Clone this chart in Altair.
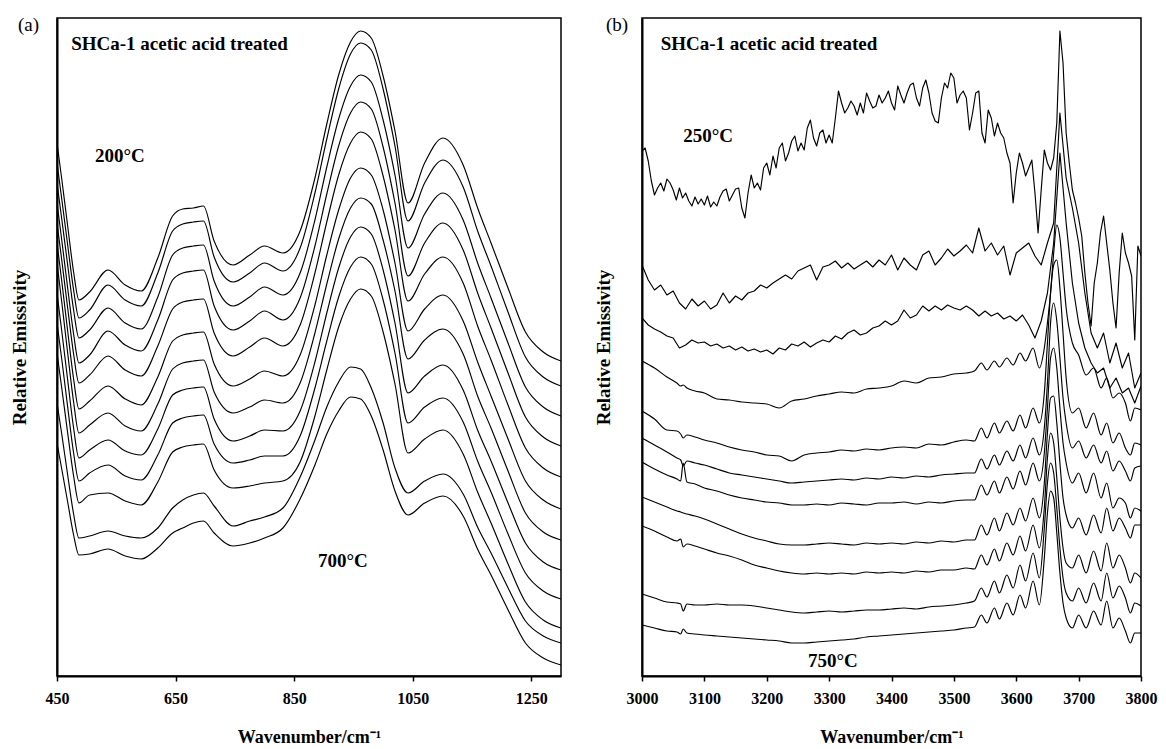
import altair as alt
import pandas as pd

FONT = "Liberation Serif"

# ---------------- panel (a): 450-1300 cm-1, 12 stacked spectra (top = 200 C) ----------------
A_WN = [450, 458, 468, 478, 487, 505, 536, 565, 592, 620, 645, 662, 680, 697, 715, 747, 775, 800, 831,
        860, 885, 905, 925, 945, 962, 980, 1000, 1020, 1042, 1070, 1101, 1135, 1160, 1182, 1210, 1240, 1270, 1300]

A_S1 = [533, 497, 450, 404, 376, 384, 406, 391, 385, 418, 460, 467, 468, 470, 435, 411, 421, 430, 423,
        445, 498, 552, 601, 634, 645, 638, 600, 545, 473, 513, 538, 511, 467, 433, 389, 344, 324, 315]
A_S2 = [513, 477, 431, 386, 358, 366, 391, 376, 370, 403, 445, 452, 454, 455, 419, 394, 403, 413, 405,
        428, 483, 537, 587, 622, 633, 626, 587, 530, 455, 493, 516, 489, 444, 410, 365, 319, 299, 290]
A_S3 = [493, 457, 411, 366, 338, 346, 368, 353, 347, 379, 421, 428, 430, 431, 395, 370, 379, 389, 381,
        403, 456, 509, 557, 590, 601, 594, 556, 501, 428, 462, 483, 456, 412, 378, 334, 289, 269, 260]
A_S4 = [473, 436, 388, 342, 313, 321, 345, 331, 325, 356, 396, 403, 405, 406, 370, 346, 355, 365, 356,
        378, 430, 482, 530, 563, 574, 567, 529, 473, 400, 433, 453, 426, 382, 348, 304, 259, 239, 230]
A_S5 = [453, 416, 368, 322, 293, 301, 320, 306, 300, 330, 367, 374, 376, 377, 343, 320, 329, 338, 330,
        351, 403, 454, 501, 533, 544, 537, 500, 446, 375, 402, 419, 393, 349, 316, 272, 228, 208, 199]
A_S6 = [433, 395, 345, 297, 267, 275, 290, 277, 271, 299, 335, 341, 343, 344, 312, 290, 297, 305, 300,
        321, 371, 421, 466, 498, 508, 501, 466, 413, 345, 367, 381, 355, 313, 280, 238, 195, 176, 167]
A_S7 = [413, 374, 323, 274, 243, 251, 263, 250, 245, 272, 307, 313, 315, 316, 284, 263, 269, 276, 273,
        293, 343, 392, 437, 468, 478, 472, 436, 385, 317, 336, 347, 322, 279, 248, 206, 163, 144, 136]
A_S8 = [383, 345, 296, 248, 218, 226, 236, 225, 221, 247, 281, 286, 288, 289, 257, 235, 240, 246, 245,
        265, 314, 363, 408, 439, 449, 442, 406, 353, 283, 300, 311, 286, 245, 215, 174, 133, 114, 106]
A_S9 = [353, 317, 269, 223, 195, 203, 211, 200, 196, 221, 253, 258, 260, 261, 232, 213, 216, 220, 220,
        240, 288, 335, 379, 409, 419, 412, 376, 323, 253, 269, 278, 254, 214, 184, 143, 103, 85, 77]
A_S10 = [323, 288, 243, 200, 173, 181, 183, 175, 171, 194, 224, 229, 231, 232, 206, 188, 190, 193, 195,
         214, 260, 306, 349, 377, 387, 380, 344, 292, 223, 237, 246, 222, 183, 153, 113, 74, 56, 48]
A_S11 = [273, 242, 201, 162, 138, 140, 145, 140, 138, 148, 168, 176, 181, 183, 170, 150, 155, 159, 168,
         199, 236, 269, 294, 309, 307, 288, 253, 208, 183, 195, 202, 182, 148, 123, 89, 55, 40, 33]
A_S12 = [233, 207, 174, 141, 121, 122, 127, 120, 117, 128, 143, 148, 153, 155, 143, 130, 133, 138, 148,
         177, 211, 242, 265, 279, 277, 260, 226, 185, 161, 173, 180, 160, 126, 101, 67, 33, 18, 11]
A_SERIES = [A_S1, A_S2, A_S3, A_S4, A_S5, A_S6, A_S7, A_S8, A_S9, A_S10, A_S11, A_S12]

# ---------------- panel (b): 3000-3800 cm-1, 11 stacked spectra (250 C ... 750 C) ----------------
B_WN_FINE = list(range(3000, 3801, 5))
B_WN_MED = list(range(3000, 3801, 10))
B_WN_LOW = [3000, 3020, 3040, 3056, 3062, 3066, 3072, 3085, 3100, 3120, 3140, 3160, 3180, 3200, 3220,
            3240, 3260, 3280, 3300, 3320, 3340, 3360, 3380, 3400, 3420, 3440, 3460, 3480, 3500, 3520]
B_WN_HIGH = [3533, 3544, 3553, 3565, 3573, 3585, 3595, 3606, 3615, 3627, 3637, 3645, 3650, 3655, 3660,
             3665, 3670, 3675, 3680, 3690, 3700, 3712, 3724, 3736, 3745, 3755, 3765, 3775, 3783, 3790, 3800]
B_WN_SPARSE = B_WN_LOW + B_WN_HIGH

B_250 = [852, 855, 842, 822, 808, 815, 820, 812, 824, 820,
         813, 803, 815, 805, 810, 802, 797, 806, 799, 804,
         798, 807, 796, 801, 797, 806, 812, 814, 802, 808,
         814, 815, 795, 785, 810, 828, 815, 820, 813, 835,
         840, 828, 847, 835, 855, 860, 842, 850, 862, 867,
         852, 860, 853, 875, 883, 865, 857, 870, 873, 860,
         868, 860, 885, 912, 900, 890, 895, 902, 897, 888,
         900, 890, 910, 902, 895, 897, 908, 900, 905, 912,
         900, 893, 917, 908, 900, 910, 918, 920, 905, 897,
         915, 923, 910, 890, 882, 880, 905, 920, 915, 930,
         925, 900, 908, 912, 905, 873, 890, 910, 912, 870,
         860, 893, 885, 867, 880, 870, 865, 850, 840, 800,
         830, 850, 840, 827, 835, 843, 810, 770, 813, 853,
         840, 833, 845, 880, 972, 940, 870, 840, 813, 800,
         785, 767, 730, 700, 677, 720, 740, 770, 787, 760,
         733, 700, 675, 730, 770, 750, 740, 727, 663, 757,
         747]
B_300 = [738, 723, 713, 718, 708, 712, 700, 694, 704, 697,
         702, 694, 698, 710, 700, 707, 703, 710, 712, 718,
         715, 720, 724, 728, 724, 732, 735, 738, 723, 736,
         738, 742, 735, 740, 734, 738, 742, 736, 743, 738,
         748, 733, 745, 738, 733, 748, 752, 738, 745, 754,
         747, 752, 758, 750, 775, 752, 760, 748, 757, 728,
         750, 755, 760, 747, 738, 760, 780, 890, 825, 795,
         760, 710, 670, 655, 670, 640, 660, 635, 650, 615,
         630]
B_350 = [685, 678, 674, 671, 667, 665, 655, 658, 663, 660,
         661, 657, 659, 655, 657, 653, 656, 652, 654, 651,
         653, 649, 655, 653, 659, 657, 661, 656, 660, 663,
         661, 667, 664, 670, 673, 668, 670, 675, 677, 682,
         678, 682, 693, 685, 688, 697, 692, 697, 693, 698,
         695, 693, 697, 693, 687, 692, 687, 690, 684, 687,
         682, 688, 678, 665, 682, 710, 760, 850, 780, 720,
         680, 655, 640, 630, 635, 615, 625, 610, 615, 600,
         617]
B_400 = [642, 635, 626, 620, 617, 618, 615, 612, 610, 604, 603, 601, 600, 599, 595,
         602, 604, 607, 609, 611, 610, 614, 615, 617, 622, 620, 625, 626, 629, 630,
         632, 640, 633, 642, 636, 645, 638, 650, 642, 655, 635, 655, 680, 710, 750,
         778, 765, 730, 695, 660, 648, 628, 635, 615, 625, 605, 610, 600, 582, 595, 593]
B_450 = [592, 584, 573, 572, 569, 565, 568, 566, 563, 560, 556, 553, 551, 548, 547,
         542, 548, 550, 551, 553, 552, 554, 553, 555, 556, 555, 559, 558, 561, 563,
         562, 575, 565, 580, 570, 582, 572, 588, 575, 595, 580, 610, 660, 710, 738,
         743, 715, 670, 625, 590, 595, 575, 590, 568, 580, 560, 570, 555, 548, 560, 558]
B_500 = [565, 558, 551, 545, 543, 537, 542, 540, 538, 534, 530, 528, 526, 524, 522,
         520, 521, 522, 523, 524, 523, 525, 524, 526, 525, 527, 526, 528, 529, 530,
         530, 544, 534, 548, 538, 552, 542, 558, 545, 565, 548, 575, 620, 680, 700,
         682, 645, 605, 580, 555, 562, 545, 558, 540, 552, 532, 542, 532, 522, 535, 537]
B_550 = [541, 534, 528, 524, 522, 540, 521, 519, 515, 512, 508, 505, 503, 501, 500,
         498, 498, 499, 498, 500, 499, 498, 500, 500, 501, 499, 501, 500, 502, 503,
         503, 518, 508, 522, 510, 526, 514, 532, 518, 540, 522, 550, 595, 645, 655,
         635, 595, 560, 540, 520, 530, 510, 530, 505, 520, 495, 505, 500, 485, 495, 492]
B_600 = [506, 501, 496, 492, 491, 490, 489, 487, 484, 479, 474, 469, 465, 462, 459,
         458, 458, 459, 460, 459, 458, 460, 459, 460, 459, 461, 460, 462, 461, 463,
         463, 478, 468, 485, 472, 490, 478, 495, 482, 505, 485, 520, 570, 605, 607,
         580, 540, 505, 488, 475, 485, 468, 488, 470, 495, 472, 485, 475, 465, 478, 478]
B_650 = [477, 472, 466, 462, 464, 456, 459, 457, 454, 450, 447, 443, 438, 435, 432,
         430, 429, 430, 429, 430, 429, 431, 430, 431, 430, 432, 431, 433, 433, 435,
         434, 448, 438, 454, 442, 460, 448, 467, 452, 478, 455, 495, 545, 570, 560,
         525, 485, 455, 440, 435, 448, 430, 452, 432, 460, 435, 448, 435, 420, 430, 425]
B_700 = [409, 405, 401, 400, 399, 392, 399, 398, 398, 399, 398, 398, 397, 395, 393,
         391, 390, 391, 392, 391, 392, 393, 393, 394, 395, 394, 396, 397, 398, 400,
         402, 415, 406, 422, 410, 428, 415, 438, 422, 450, 425, 475, 520, 540, 530,
         495, 455, 425, 410, 402, 415, 400, 420, 402, 430, 405, 417, 405, 390, 400, 397]
B_750 = [378, 375, 372, 371, 369, 374, 370, 369, 368, 367, 366, 365, 364, 363, 362,
         360, 360, 361, 362, 363, 364, 366, 367, 368, 369, 370, 371, 372, 373, 375,
         376, 388, 380, 395, 384, 400, 388, 408, 395, 422, 398, 445, 490, 512, 505,
         470, 430, 400, 385, 375, 388, 375, 392, 378, 402, 375, 385, 372, 360, 370, 370]

B_NOISY = [(B_WN_FINE, B_250), (B_WN_MED, B_300), (B_WN_MED, B_350)]
B_SMOOTH = [(B_WN_SPARSE, B_400), (B_WN_SPARSE, B_450), (B_WN_SPARSE, B_500),
            (B_WN_SPARSE, B_550), (B_WN_SPARSE, B_600), (B_WN_SPARSE, B_650),
            (B_WN_SPARSE, B_700), (B_WN_SPARSE, B_750)]

# ---------------- annotations (anchored in data units) ----------------
A_NOTE_LEFT = [("SHCa-1 acetic acid treated", 474, 632)]
A_NOTE_CENTER = [("200°C", 556, 520), ("700°C", 932, 115)]
A_PANEL = [("(a)", 402, 651)]
B_NOTE_LEFT = [("SHCa-1 acetic acid treated", 3030, 959)]
B_NOTE_CENTER = [("250°C", 3106, 867), ("750°C", 3306, 342)]
B_PANEL = [("(b)", 2960, 978)]

A_TICKS = [450, 650, 850, 1050, 1250]
B_TICKS = [3000, 3100, 3200, 3300, 3400, 3500, 3600, 3700, 3800]


# ---------------- tables ----------------
def table(series, offset=0):
    rows = []
    for i, (grid, vals) in enumerate(series):
        assert len(vals) == len(grid), (i, len(vals), len(grid))
        for w, v in zip(grid, vals):
            rows.append({"wn": w, "e": v, "curve": i + offset})
    return pd.DataFrame(rows)


df_a = table([(A_WN, s) for s in A_SERIES])
df_b_noisy = table(B_NOISY)
df_b_smooth = table(B_SMOOTH, offset=len(B_NOISY))


def notes(lst):
    return pd.DataFrame([{"t": t, "wn": w, "e": e} for t, w, e in lst])


def panel(line_sets, xdom, ydom, ticks, width, ytp, left, center, plab):
    xenc = alt.X("wn:Q", scale=alt.Scale(domain=xdom, nice=False, zero=False),
                 axis=alt.Axis(values=ticks, format="d", title="Wavenumber/cm⁻¹"))
    yenc = alt.Y("e:Q", scale=alt.Scale(domain=ydom, nice=False, zero=False),
                 axis=alt.Axis(title="Relative Emissivity", labels=False, ticks=False,
                               titlePadding=ytp))
    layers = []
    for df, interp in line_sets:
        layers.append(
            alt.Chart(df).mark_line(color="black", strokeWidth=1.15, interpolate=interp,
                                    strokeJoin="round", clip=True).encode(
                x=xenc, y=yenc, detail="curve:N"))
    layers.append(alt.Chart(notes(left)).mark_text(
        align="left", baseline="middle", font=FONT, fontSize=19, fontWeight="bold",
        color="black").encode(x=xenc, y=yenc, text="t:N"))
    layers.append(alt.Chart(notes(center)).mark_text(
        align="center", baseline="middle", font=FONT, fontSize=19, fontWeight="bold",
        color="black").encode(x=xenc, y=yenc, text="t:N"))
    layers.append(alt.Chart(notes(plab)).mark_text(
        align="center", baseline="middle", font=FONT, fontSize=19, fontWeight="normal",
        color="black").encode(x=xenc, y=yenc, text="t:N"))
    return alt.layer(*layers).properties(width=width, height=658)


pa = panel([(df_a, "monotone")], [450, 1300], [0, 658], A_TICKS, 504, 28,
           A_NOTE_LEFT, A_NOTE_CENTER, A_PANEL)
pb = panel([(df_b_noisy, "linear"), (df_b_smooth, "monotone")], [3000, 3800], [327, 985],
           B_TICKS, 499, 29, B_NOTE_LEFT, B_NOTE_CENTER, B_PANEL)

chart = (
    alt.hconcat(pa, pb, spacing=31)
    .properties(padding={"left": 9, "top": 15, "right": 2, "bottom": 0}, background="white")
    .configure_view(stroke="black", strokeWidth=1.5)
    .configure_axis(domainColor="black", domainWidth=2, tickColor="black", tickWidth=1.5,
                    tickSize=5, labelFont=FONT, labelFontSize=16, labelFontWeight="bold",
                    labelColor="black", labelPadding=9, labelFlush=False, labelOverlap=False,
                    titleFont=FONT, titleFontWeight="bold", titleColor="black", grid=False)
    .configure_axisX(titleFontSize=18, titlePadding=22)
    .configure_axisY(titleFontSize=19)
)

chart.save("out.html", embed_options={"renderer": "svg", "actions": False})
